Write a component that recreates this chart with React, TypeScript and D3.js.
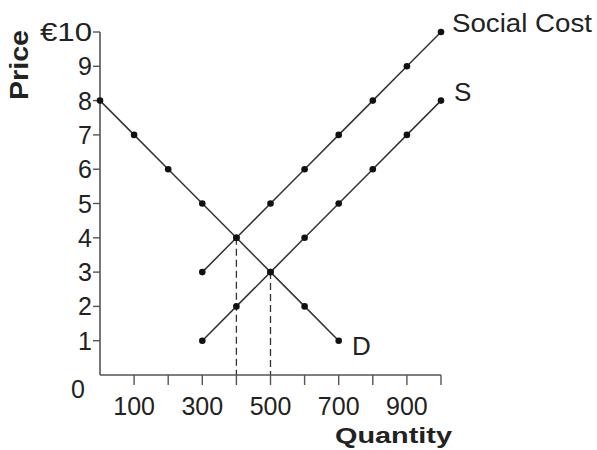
import React from "react";
import * as d3 from "d3";

// curves: quantity -> price
const demandQ = [0, 100, 200, 300, 400, 500, 600, 700];
const demandP = [8, 7, 6, 5, 4, 3, 2, 1];
const supplyQ = [300, 400, 500, 600, 700, 800, 900, 1000];
const supplyP = [1, 2, 3, 4, 5, 6, 7, 8];
const socialQ = [300, 400, 500, 600, 700, 800, 900, 1000];
const socialP = [3, 4, 5, 6, 7, 8, 9, 10];

const xTicks = [100, 200, 300, 400, 500, 600, 700, 800, 900, 1000];
const xTickLabels = [100, 300, 500, 700, 900];
const yTicks = [1, 2, 3, 4, 5, 6, 7, 8, 9, 10];

// equilibria (dashed drops)
const dropQ = [400, 500];
const dropP = [4, 3];

const W = 597;
const H = 450;

export default function App() {
  const x = d3.scaleLinear().domain([0, 1000]).range([100, 441]);
  const y = d3.scaleLinear().domain([0, 10]).range([375, 32]);

  const line = d3
    .line<[number, number]>()
    .x((d) => x(d[0]))
    .y((d) => y(d[1]));

  const zip = (q: number[], p: number[]) =>
    q.map((v, i) => [v, p[i]] as [number, number]);

  const series = [zip(demandQ, demandP), zip(supplyQ, supplyP), zip(socialQ, socialP)];

  const font = "'Liberation Sans', Arial, Helvetica, sans-serif";
  const ink = "#222";

  return (
    <div style={{ position: "absolute", left: 0, top: 0 }}>
      <svg width={W} height={H} style={{ display: "block", background: "#fff" }} fontFamily={font}>
        {/* dashed drop lines */}
        {dropQ.map((q, i) => (
          <line
            key={"d" + i}
            x1={x(q)}
            x2={x(q)}
            y1={y(dropP[i])}
            y2={y(0)}
            stroke="#333"
            strokeWidth={1.3}
            strokeDasharray="7,4"
          />
        ))}

        {/* axes */}
        <line x1={x(0)} x2={x(1000)} y1={y(0)} y2={y(0)} stroke="#555" strokeWidth={1.6} />
        <line x1={x(0)} x2={x(0)} y1={y(0)} y2={y(10)} stroke="#555" strokeWidth={1.6} />
        {xTicks.map((t) => (
          <line key={"xt" + t} x1={x(t)} x2={x(t)} y1={y(0)} y2={y(0) + 10} stroke="#555" strokeWidth={1.4} />
        ))}
        {yTicks.map((t) => (
          <line key={"yt" + t} x1={x(0) - 7} x2={x(0)} y1={y(t)} y2={y(t)} stroke="#555" strokeWidth={1.4} />
        ))}
        {xTickLabels.map((t) => (
          <text key={"xl" + t} x={x(t)} y={y(0) + 40} fontSize={25} textAnchor="middle" fill={ink}>
            {t}
          </text>
        ))}
        {yTicks.map((t) => (
          <text
            key={"yl" + t}
            x={x(0) - 8}
            y={y(t)}
            dy="0.36em"
            fontSize={25}
            textAnchor="end"
            fill={ink}
            textLength={t === 10 ? 52 : undefined}
            lengthAdjust="spacingAndGlyphs"
          >
            {t === 10 ? "€10" : t}
          </text>
        ))}
        <text x={x(0) - 22} y={y(0) + 23} fontSize={25} textAnchor="middle" fill={ink}>
          0
        </text>

        {/* axis titles */}
        <text
          transform={`translate(28, 65) rotate(-90)`}
          fontSize={25}
          fontWeight="bold"
          textAnchor="middle"
          fill={ink}
          textLength={70}
          lengthAdjust="spacingAndGlyphs"
        >
          Price
        </text>
        <text
          x={335}
          y={443}
          fontSize={22}
          fontWeight="bold"
          fill={ink}
          textLength={117}
          lengthAdjust="spacingAndGlyphs"
        >
          Quantity
        </text>

        {/* curves */}
        {series.map((s, i) => (
          <g key={"s" + i}>
            <path d={line(s) || ""} fill="none" stroke="#333" strokeWidth={1.5} />
            {s.map((d, j) => (
              <circle key={j} cx={x(d[0])} cy={y(d[1])} r={3.3} fill="#111" />
            ))}
          </g>
        ))}

        {/* curve labels */}
        <text
          x={452}
          y={32}
          fontSize={26}
          fill={ink}
          textLength={140}
          lengthAdjust="spacingAndGlyphs"
        >
          Social Cost
        </text>
        <text x={454} y={101} fontSize={26} fill={ink}>
          S
        </text>
        <text x={352} y={355} fontSize={26} fill={ink}>
          D
        </text>
      </svg>
    </div>
  );
}
